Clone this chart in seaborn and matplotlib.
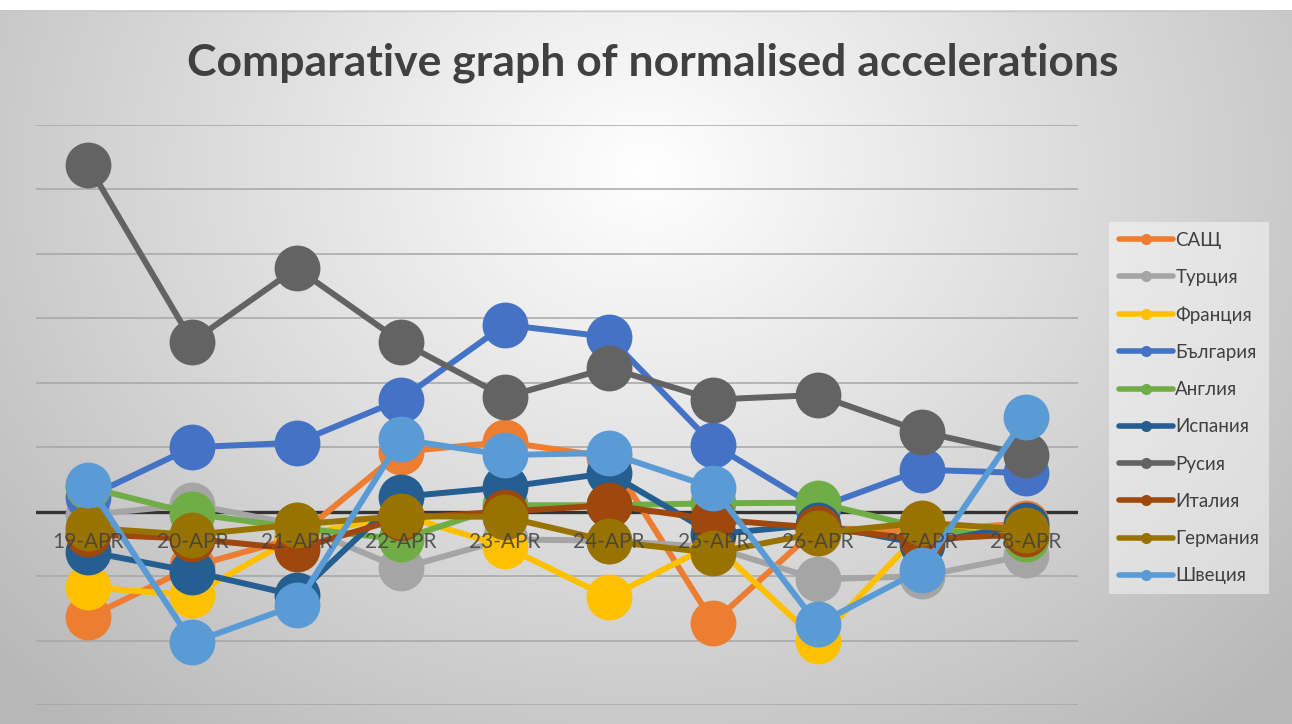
import numpy as np
import pandas as pd
import seaborn as sns
import matplotlib.pyplot as plt
from matplotlib.lines import Line2D

dates = ['19-APR', '20-APR', '21-APR', '22-APR', '23-APR',
         '24-APR', '25-APR', '26-APR', '27-APR', '28-APR']

countries = ['САЩ', 'Турция', 'Франция', 'България', 'Англия',
             'Испания', 'Русия', 'Италия', 'Германия', 'Швеция']

colors = ['#ED7D31', '#A5A5A5', '#FFC000', '#4472C4', '#70AD47',
          '#255E91', '#636363', '#9E480E', '#997300', '#5B9BD5']

usa = [-1.64, -0.85, -0.40, 0.93, 1.08, 0.85, -1.72, -0.25, -0.30, -0.18]
turkey = [-0.05, 0.11, -0.20, -0.88, -0.43, -0.45, -0.55, -1.05, -1.00, -0.68]
france = [-1.17, -1.30, -0.38, -0.05, -0.54, -1.33, -0.50, -2.00, -0.30, -0.25]
bulgaria = [0.23, 1.00, 1.07, 1.74, 2.90, 2.71, 1.04, 0.06, 0.65, 0.60]
england = [0.38, -0.03, -0.25, -0.43, 0.10, 0.10, 0.13, 0.14, -0.25, -0.42]
spain = [-0.62, -0.93, -1.30, 0.23, 0.38, 0.60, -0.35, -0.20, -0.50, -0.20]
russia = [5.38, 2.64, 3.78, 2.64, 1.78, 2.23, 1.74, 1.81, 1.24, 0.88]
italy = [-0.35, -0.42, -0.58, -0.10, 0.00, 0.10, -0.12, -0.25, -0.43, -0.35]
germany = [-0.25, -0.36, -0.20, -0.07, -0.08, -0.46, -0.64, -0.33, -0.17, -0.28]
sweden = [0.42, -2.03, -1.45, 1.12, 0.88, 0.91, 0.37, -1.75, -0.90, 1.47]

series = [usa, turkey, france, bulgaria, england, spain, russia, italy, germany, sweden]

wide = pd.DataFrame(dict(zip(countries, series)), index=dates)
wide.index.name = 'date'
df = wide.reset_index().melt(id_vars='date', var_name='country', value_name='value')

sns.set_theme(style='white')
plt.rcParams['font.family'] = ['Lato', 'DejaVu Sans']

W, H = 1292, 724
fig = plt.figure(figsize=(W / 100, H / 100), dpi=100)

# radial grey background like the Excel chart area
bg = fig.add_axes([0, 0, 1, 1], zorder=-10)
yy, xx = np.mgrid[0:H, 0:W]
r = np.sqrt(((xx - 646) / 760.0) ** 2 + ((yy - 170) / 640.0) ** 2)
shade = 255 - 62 * np.clip(r, 0, 1.15)
shade[:10, :] = 255
img = np.dstack([shade, shade, shade]) / 255.0
bg.imshow(img, extent=[0, W, H, 0], aspect='auto', interpolation='bilinear')
bg.plot([0, W], [10.5, 10.5], color='#c8c8c8', lw=1)
bg.set_xlim(0, W)
bg.set_ylim(H, 0)
bg.axis('off')

ax = fig.add_axes([36 / W, 1 - 705 / H, 1042 / W, 580 / H])
ax.patch.set_alpha(0)

for v in range(-3, 7):
    if v != 0:
        ax.axhline(v, color='#a6a6a6', lw=1.1, zorder=1)
ax.axhline(0, color='#333333', lw=2.4, zorder=2)

sns.lineplot(data=df, x='date', y='value', hue='country', hue_order=countries,
             palette=colors, marker='o', markersize=33, markeredgewidth=0,
             linewidth=4.3, sort=False, legend=False, ax=ax)
for line in ax.lines[10:]:
    line.set_zorder(3)

ax.set_xlim(-0.5, 9.5)
ax.set_ylim(-3, 6)
ax.set_xticks([])
ax.set_yticks([])
ax.set_xlabel('')
ax.set_ylabel('')
for s in ax.spines.values():
    s.set_visible(False)

for i, d in enumerate(dates):
    ax.text(i, -0.47, d, ha='center', va='center', fontsize=15,
            color='#404040', alpha=0.85, zorder=10)

fig.text(0.505, 0.913, 'Comparative graph of normalised accelerations',
         ha='center', va='center', fontsize=32, fontweight='bold', color='#404040')

handles = [Line2D([0], [0], color=c, lw=4, marker='o', markersize=8, markeredgewidth=0)
           for c in colors]
leg = fig.legend(handles, countries, loc='upper left', bbox_to_anchor=(1100 / W, 1 - 213 / H),
                 frameon=True, fontsize=13.5, labelspacing=1.08, handlelength=2.9,
                 handletextpad=0.12, borderpad=0.5, fancybox=False)
leg.get_frame().set_facecolor('white')
leg.get_frame().set_alpha(0.45)
leg.get_frame().set_edgecolor('none')
for t in leg.get_texts():
    t.set_color('#404040')

fig.savefig('out.png', dpi=100)
